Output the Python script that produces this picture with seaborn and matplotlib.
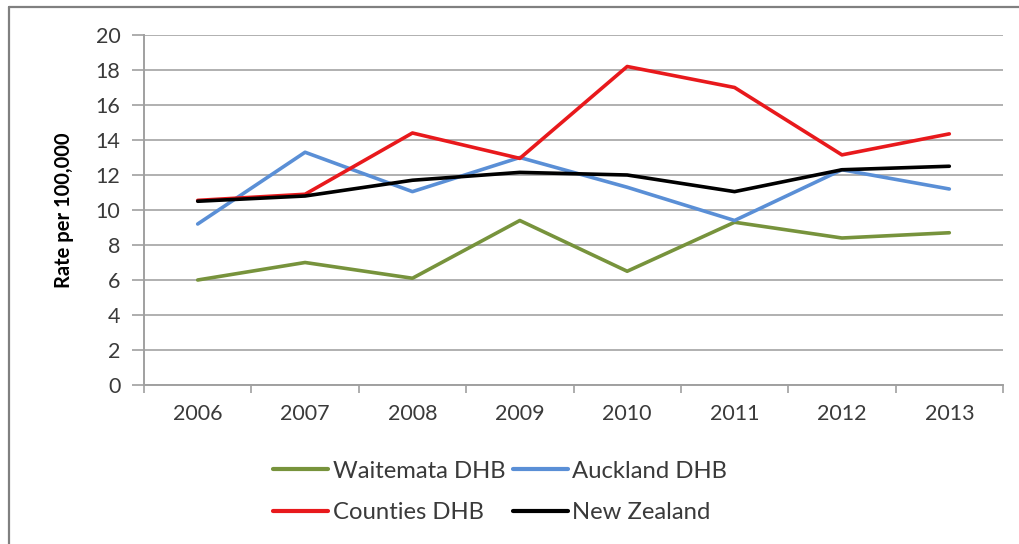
import matplotlib
matplotlib.use("Agg")
import matplotlib.pyplot as plt
from matplotlib.lines import Line2D
import numpy as np
import pandas as pd
import seaborn as sns

years = ["2006", "2007", "2008", "2009", "2010", "2011", "2012", "2013"]
waitemata = [6.0, 7.0, 6.1, 9.4, 6.5, 9.3, 8.4, 8.7]
auckland = [9.2, 13.3, 11.05, 13.0, 11.3, 9.4, 12.3, 11.2]
counties = [10.55, 10.9, 14.4, 12.95, 18.2, 17.0, 13.15, 14.35]
new_zealand = [10.5, 10.8, 11.7, 12.15, 12.0, 11.05, 12.3, 12.5]

series_names = ["Waitemata DHB", "Auckland DHB", "Counties DHB", "New Zealand"]
series_values = [waitemata, auckland, counties, new_zealand]
series_colors = ["#77933C", "#5A8FD6", "#E8191C", "#000000"]

rows = []
for name, vals in zip(series_names, series_values):
    for i, v in enumerate(vals):
        rows.append({"pos": i, "year": years[i], "series": name, "rate": v})
df = pd.DataFrame(rows)

sns.set_theme(style="white")
plt.rcParams["font.family"] = ["Lato", "DejaVu Sans"]

fig = plt.figure(figsize=(10.19, 5.44), dpi=100)
ax = fig.add_axes([144 / 1019, 1 - 385 / 544, (1003 - 144) / 1019, 350 / 544])

palette = dict(zip(series_names, series_colors))
sns.lineplot(data=df, x="pos", y="rate", hue="series", palette=palette,
             hue_order=series_names, linewidth=2.6, ax=ax, legend=False,
             sort=False)

ax.set_xlim(-0.5, 7.5)
ax.set_ylim(0, 20)
ax.set_yticks(np.arange(0, 21, 2))
ax.set_xticks(np.arange(8))
ax.set_xticklabels(years)
ax.set_xticks(np.arange(-0.5, 8, 1), minor=True)
ax.tick_params(axis="x", which="major", length=0, pad=14, labelsize=15.5,
               labelcolor="#3A3A3A")
ax.tick_params(axis="x", which="minor", length=6, width=1.2, color="#A0A0A0",
               direction="out", bottom=True)
ax.tick_params(axis="y", length=9, width=1.2, color="#A0A0A0", direction="out",
               left=True, pad=8, labelsize=15.5, labelcolor="#3A3A3A")

ax.yaxis.grid(True, color="#B0B0B0", linewidth=1.4)
ax.set_axisbelow(True)
for side in ["top", "right"]:
    ax.spines[side].set_visible(False)
for side in ["left", "bottom"]:
    ax.spines[side].set_color("#A0A0A0")
    ax.spines[side].set_linewidth(1.4)

ax.set_xlabel("")
ax.set_ylabel("Rate per 100,000", fontsize=14.5, fontweight="bold",
              color="#000000")
ax.yaxis.set_label_coords((74 - 144) / 859, 0.5)

# two-row legend: matplotlib fills columns first, so order handles accordingly
legend_order = [0, 2, 1, 3]
handles = [Line2D([0], [0], color=series_colors[i], linewidth=3)
           for i in legend_order]
labels = [series_names[i] for i in legend_order]
fig.legend(handles, labels, loc="center", bbox_to_anchor=(0.491, 0.0956),
           ncol=2, frameon=False, fontsize=17.2, handlelength=2.3,
           handletextpad=0.2, columnspacing=0.3, labelspacing=0.85,
           labelcolor="#3A3A3A")

# frame lines along the left and top edges of the figure
fig.add_artist(Line2D([9 / 1019, 9 / 1019], [0, 1 - 7 / 544],
                      transform=fig.transFigure, color="#808080", linewidth=1.6))
fig.add_artist(Line2D([9 / 1019, 1], [1 - 7 / 544, 1 - 7 / 544],
                      transform=fig.transFigure, color="#808080", linewidth=1.6))

fig.savefig("out.png", dpi=100)
